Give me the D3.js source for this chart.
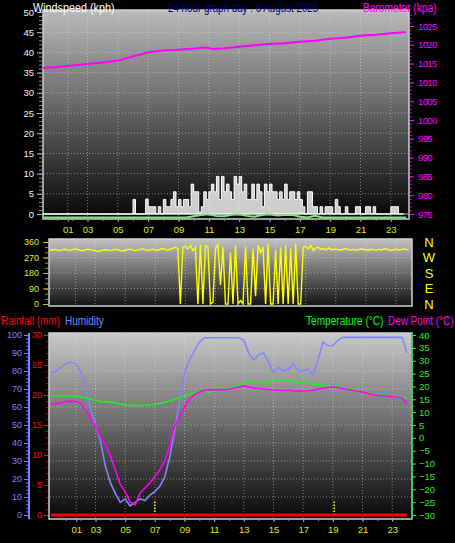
<!DOCTYPE html>
<html><head><meta charset="utf-8">
<script src="https://cdn.jsdelivr.net/npm/d3@7"></script>
<style>html,body{margin:0;padding:0;background:#000;overflow:hidden}</style>
</head><body><svg id="c" width="455" height="543"></svg>
<script>
// ---------- DATA ----------
const hourLabels = ['01','03','05','07','09','11','13','15','17','19','21','23'];
const hourTicks  = [1.7,3,5,7,9,11,13,15,17,19,21,23];

// wind gust (kph), every 10 minutes from 00:00
const windGust = [
 0,0,0,0,0,0, 0,0,0,0,0,0, 0,0,0,0,0,0, 0,0,0,0,0,0, 0,0,0,0,0,0, 0,0,0,0,0,0,
 3.6,0,0,0,0,3.7, 1.8,1.8,1.8,0,1.8,0, 3.6,1.8,1.8,3.6,5.5,1.8, 3.6,1.8,3.6,3.6,1.8,7.4,
 5.5,5.5,0.5,1.8,5.5,3.6, 5.5,7.4,5.5,9.3,3.6,9.3, 5.5,7.4,5.5,3.6,9.3,7.4, 9.3,5.5,7.4,3.6,3.6,7.4,
 3.6,7.4,5.5,1.8,7.4,5.5, 7.4,5.5,5.5,3.6,5.5,3.6, 7.4,3.6,5.5,5.5,3.6,5.5, 3.6,1.8,0,5.5,5.5,1.8,
 1.8,0,1.8,0,1.8,1.8, 1.8,0,3.6,1.8,0,0, 1.8,0,0,0,1.8,1.8, 0,0,1.8,1.8,0,1.8,
 0,0,0,0,0,0, 1.8,1.8,1.8,0,0,0
];
// average wind (kph), every 30 minutes
const windAvg = [
 0,0,0,0,0,0,0,0,0,0,0,0,0,0,0,0,0,0,0,0,
 0.3,0.6,0.8,0.4,0.3,0.7,0.8,0.4,0.2,0.6,0.8,0.5,0.6,0.7,0.2,0,0.4,
 0,0,0,0,0,0,0,0,0,0,0,0
];
// barometer
const baroHours = [0,1,2,3,4,5,6,7,8,9,10,10.8,11.3,12,13,14,15,16,17,18,19,20,21,22,23,24];
const baroVals  = [1013.8,1014.1,1014.5,1014.9,1015.3,1015.8,1016.9,1018.0,1018.5,1018.7,1019.0,1019.3,1018.9,1019.1,1019.5,1019.9,1020.2,1020.4,1020.8,1021.1,1021.6,1021.9,1022.4,1022.7,1023.1,1023.4];
// wind direction (deg), every 10 minutes
const windDir = [
 312,315,318,313,310,316, 318,314,311,316,320,315, 312,309,314,318,316,312, 310,306,308,312,315,313,
 310,314,317,315,311,308, 312,316,318,314,310,313, 317,320,315,311,314,318, 315,312,318,322,316,313,
 318,325,330,320,0,330, 335,320,340,310,330,0, 345,0,340,330,0,10, 320,345,110,330,0,0,
 300,0,340,0,20,0, 330,0,0,320,45,340, 300,330,0,350,0,0, 310,0,330,0,340,0,
 320,0,350,0,0,330, 335,320,340,310,325,330, 318,322,314,326,318,315, 320,316,312,318,322,316,
 314,318,312,316,320,318, 315,312,318,316,313,317, 314,318,321,316,312,315, 318,314,316,320,317,315
];
// every 20 minutes from 00:00 to 24:00
const humidity = [79,80,82,84,85,84,80,70,59,50,41,27,18,12,7,9,5,7,9,8,11,13,16,21,32,47,63,79,86,91,96,
 98.5,98.5,98.5,98.5,98.5,98.5,98.5,98.5,
 97,90,86,89,90,85,79,82,80,81,84,80,80,81,78,86,96,94,94,97,
 98.7,98.7,98.7,98.7,98.7,98.7,98.7,98.7,98.7,98.7,98.7,98.7,98.7,90];
const temperature = [16.3,16.3,16.2,16.3,16.3,16.2,16.0,15.5,15.0,14.5,14.2,14.1,14.0,13.6,13.2,12.8,12.7,12.6,12.6,12.7,
 12.9,13.1,13.4,13.8,14.4,15.0,15.6,16.3,17.0,17.5,18.0,18.5,17.4,19.3,19.8,19.5,19.2,19.8,20.5,21.5,
 22.0,21.3,21.2,21.6,21.8,22.2,22.4,22.3,22.2,22.0,21.8,21.6,21.4,21.0,20.8,20.4,20.1,20.1,20.0,19.6,
 19.2,18.8,18.3,17.9,17.6,17.2,16.9,16.6,16.2,16.1,16.0,16.0,15.2];
const dewPoint = [13.1,13.3,13.5,14.2,14.3,14.2,13.4,10.5,7.5,4.5,0.4,-2.8,-7.0,-12.5,-18,-21,-25,-26,-21.5,-19.5,
 -17.5,-15,-12.5,-9,-3,4.5,8,12,15,16.8,17.8,18.5,18.8,18.6,18.8,18.7,18.9,19.3,19.8,20.2,
 19.8,19.3,19.2,19.0,18.8,18.6,18.5,18.4,18.5,18.3,18.2,18.2,18.3,18.5,19.0,19.3,19.6,19.8,19.6,19.2,
 18.8,18.5,18.1,17.8,17.4,16.9,16.6,16.4,16.2,16.0,15.8,15.6,13.4];
const rainHours = [0,24];
const rainVals  = [0,0];
const sunHours = [7.0,19.1];
const compass = ['N','E','S','W','N'];
const compassDeg = [0,90,180,270,360];

// ---------- DRAW ----------
const FONT = "'Liberation Sans', Arial, sans-serif";
const svg = d3.select('#c');
const defs = svg.append('defs');
function grad(id, c0, c1){
  const g = defs.append('linearGradient').attr('id',id).attr('x1',0).attr('y1',0).attr('x2',0).attr('y2',1);
  g.append('stop').attr('offset','0%').attr('stop-color',c0);
  g.append('stop').attr('offset','100%').attr('stop-color',c1);
}
grad('g1','#bababa','#060606');
grad('g2','#c2c2c2','#121212');
grad('g3','#cacaca','#060606');

const P1 = {l:43,r:409,t:10,b:219};
const P2 = {l:49,r:412,t:239,b:306};
const P3 = {l:49,r:412,t:333,b:519};

const x1 = d3.scaleLinear([0,24],[42,406]);
const yWind = d3.scaleLinear([0,50],[214,12]);
const yBaro = d3.scaleLinear([975,1025],[214,26]);
const x2 = d3.scaleLinear([0,24],[50,411]);
const yDir = d3.scaleLinear([0,360],[304,242]);
const x3 = d3.scaleLinear([0,24],[51,407]);
const yHum = d3.scaleLinear([0,100],[515,335]);
const yRain = d3.scaleLinear([0,30],[515,335]);
const yTemp = d3.scaleLinear([-30,40],[515,335]);

function panel(P, id, clipId){
  defs.append('clipPath').attr('id',clipId).append('rect')
    .attr('x',P.l).attr('y',P.t).attr('width',P.r-P.l).attr('height',P.b-P.t);
  svg.append('rect').attr('x',P.l).attr('y',P.t).attr('width',P.r-P.l).attr('height',P.b-P.t)
    .attr('fill','url(#'+id+')').attr('stroke','#cfcfcf').attr('stroke-width',1.5);
}
panel(P1,'g1','c1'); panel(P2,'g2','c2'); panel(P3,'g3','c3');

function hgrid(P, ys){
  svg.append('g').selectAll('line').data(ys).join('line')
    .attr('x1',P.l+1).attr('x2',P.r-1).attr('y1',d=>d).attr('y2',d=>d)
    .attr('stroke','rgba(225,225,225,0.5)').attr('stroke-dasharray','1,2');
}
function vgrid(P, xs){
  svg.append('g').selectAll('line').data(xs).join('line')
    .attr('y1',P.t+1).attr('y2',P.b-1).attr('x1',d=>d).attr('x2',d=>d)
    .attr('stroke','rgba(225,225,225,0.5)').attr('stroke-dasharray','1,2');
}
hgrid(P1, d3.range(5,51,5).map(v=>yWind(v)));
vgrid(P1, hourTicks.map(h=>x1(h)));
hgrid(P2, [90,180,270].map(v=>yDir(v)));
vgrid(P2, hourTicks.map(h=>x2(h)));
hgrid(P3, d3.range(10,100,10).map(v=>yHum(v)));
vgrid(P3, hourTicks.map(h=>x3(h)));
svg.append('line').attr('x1',P1.l+1).attr('x2',P1.r-1).attr('y1',yWind(0)).attr('y2',yWind(0))
  .attr('stroke','#bdbdbd').attr('stroke-width',1.2);

function styleAxis(g, lineColor, textColor, fs, ls){
  g.select('.domain').remove();
  g.selectAll('line').attr('stroke',lineColor);
  g.selectAll('text').attr('fill',textColor).style('font-family',FONT).style('font-size',fs+'px')
    .style('letter-spacing', (ls||0)+'px');
}

// ---- top panel ----
const gWind = svg.append('g').attr('clip-path','url(#c1)');
const idx10 = i => i/6;
gWind.append('path').datum(windGust)
  .attr('d', d3.area().x((d,i)=>x1(idx10(i))).y0(yWind(0)).y1(d=>yWind(d)).curve(d3.curveStepAfter))
  .attr('fill','rgba(238,238,238,0.85)').attr('stroke','#ffffff').attr('stroke-width',1);
gWind.append('path').datum(windAvg)
  .attr('transform','translate(0,3.5)')
  .attr('d', d3.line().x((d,i)=>x1(i/2)).y(d=>yWind(d)))
  .attr('fill','none').attr('stroke','#7fe37f').attr('stroke-width',2);
gWind.append('path').datum(baroVals)
  .attr('d', d3.line().x((d,i)=>x1(baroHours[i])).y(d=>yBaro(d)))
  .attr('fill','none').attr('stroke','#ff00ff').attr('stroke-width',2);

let a;
a = svg.append('g').attr('transform','translate(42,0)')
  .call(d3.axisLeft(yWind).tickValues(d3.range(0,51,1)).tickSize(3).tickFormat(''));
styleAxis(a,'#8a8a8a','#fff',9);
a = svg.append('g').attr('transform','translate(42,0)')
  .call(d3.axisLeft(yWind).tickValues(d3.range(0,51,5)).tickSize(5).tickPadding(3));
styleAxis(a,'#b5b5b5','#f2f2f2',9.5);
a = svg.append('g').attr('transform','translate(410,0)')
  .call(d3.axisRight(yBaro).tickValues(d3.range(975,1029,1)).tickSize(2).tickFormat(''));
styleAxis(a,'#c000c0','#ff00ff',9);
a = svg.append('g').attr('transform','translate(410,0)')
  .call(d3.axisRight(yBaro).tickValues(d3.range(975,1026,5)).tickFormat(d3.format('d')).tickSize(4).tickPadding(4));
styleAxis(a,'#ff00ff','#ff00ff',9.5,-0.6);
a = svg.append('g').attr('transform','translate(0,219)')
  .call(d3.axisBottom(x1).tickValues(d3.range(1,24,1)).tickSize(2).tickFormat(''));
styleAxis(a,'#909090','#e8e800',9);
a = svg.append('g').attr('transform','translate(0,219)')
  .call(d3.axisBottom(x1).tickValues(hourTicks).tickFormat((d,i)=>hourLabels[i]).tickSize(3).tickPadding(4));
styleAxis(a,'#a0a0a0','#e6e600',9.5);

// ---- middle panel ----
const gDir = svg.append('g').attr('clip-path','url(#c2)');
gDir.append('path').datum(windDir)
  .attr('d', d3.line().x((d,i)=>x2(idx10(i))).y(d=>yDir(d)))
  .attr('fill','none').attr('stroke','#ffff00').attr('stroke-width',1.4);
a = svg.append('g').attr('transform','translate(48,0)')
  .call(d3.axisLeft(yDir).tickValues(d3.range(0,361,30)).tickSize(3).tickFormat(''));
styleAxis(a,'#a0a000','#e8e800',9);
a = svg.append('g').attr('transform','translate(48,0)')
  .call(d3.axisLeft(yDir).tickValues([0,90,180,270,360]).tickSize(5).tickPadding(4));
styleAxis(a,'#c8c800','#e6e600',9);
svg.append('g').selectAll('text').data(compassDeg).join('text')
  .attr('x',429).attr('y',d=>yDir(d)).attr('dy','0.36em').attr('text-anchor','middle')
  .attr('fill','#ffff00').style('font-family',FONT).style('font-size','13px')
  .text((d,i)=>compass[i]);

// ---- bottom panel ----
const gB = svg.append('g').attr('clip-path','url(#c3)');
const idx20 = i => i/3;
gB.append('path').datum(humidity)
  .attr('d', d3.line().x((d,i)=>x3(idx20(i))).y(d=>yHum(d)))
  .attr('fill','none').attr('stroke','#8484ff').attr('stroke-width',1.6);
gB.append('path').datum(temperature)
  .attr('d', d3.line().x((d,i)=>x3(idx20(i))).y(d=>yTemp(d)))
  .attr('fill','none').attr('stroke','#22ee22').attr('stroke-width',1.6);
gB.append('path').datum(dewPoint)
  .attr('d', d3.line().x((d,i)=>x3(idx20(i))).y(d=>yTemp(d)))
  .attr('fill','none').attr('stroke','#ff00ff').attr('stroke-width',1.6);
gB.append('g').selectAll('line').data(sunHours).join('line')
  .attr('x1',d=>x3(d)).attr('x2',d=>x3(d)).attr('y1',yRain(0)).attr('y2',yRain(0)-15)
  .attr('stroke','#ffff00').attr('stroke-width',1.5).attr('stroke-dasharray','1.5,1.5');
gB.append('path').datum(rainVals)
  .attr('d', d3.line().x((d,i)=>x3(rainHours[i])).y(d=>yRain(d)))
  .attr('fill','none').attr('stroke','#ff0000').attr('stroke-width',3);

// humidity axis
svg.append('line').attr('x1',29).attr('x2',29).attr('y1',P3.t).attr('y2',P3.b)
  .attr('stroke','#8080ff').attr('stroke-width',2);
a = svg.append('g').attr('transform','translate(28,0)')
  .call(d3.axisLeft(yHum).tickValues(d3.range(0,101,2)).tickSize(2).tickFormat(''));
styleAxis(a,'#6f6fe0','#8080ff',9);
a = svg.append('g').attr('transform','translate(28,0)')
  .call(d3.axisLeft(yHum).tickValues(d3.range(0,101,10)).tickSize(4).tickPadding(2));
styleAxis(a,'#8080ff','#8080ff',9);
// rainfall axis
a = svg.append('g').attr('transform','translate(48,0)')
  .call(d3.axisLeft(yRain).tickValues(d3.range(0,31,1)).tickSize(2).tickFormat(''));
styleAxis(a,'#c00000','#ff0000',9);
a = svg.append('g').attr('transform','translate(48,0)')
  .call(d3.axisLeft(yRain).tickValues(d3.range(0,31,5)).tickSize(4).tickPadding(2));
styleAxis(a,'#ff0000','#ff0000',9);
// temperature axis
svg.append('line').attr('x1',412).attr('x2',412).attr('y1',P3.t).attr('y2',P3.b)
  .attr('stroke','#33cc33').attr('stroke-width',1.5);
a = svg.append('g').attr('transform','translate(412,0)')
  .call(d3.axisRight(yTemp).tickValues(d3.range(-30,41,2.5)).tickSize(2).tickFormat(''));
styleAxis(a,'#22bb22','#22ee22',9);
a = svg.append('g').attr('transform','translate(412,0)')
  .call(d3.axisRight(yTemp).tickValues(d3.range(-30,41,5)).tickSize(4).tickPadding(3));
styleAxis(a,'#22ee22','#22ee22',9.5);
a = svg.append('g').attr('transform','translate(0,519)')
  .call(d3.axisBottom(x3).tickValues(d3.range(1,24,1)).tickSize(2).tickFormat(''));
styleAxis(a,'#909090','#e8e800',9);
a = svg.append('g').attr('transform','translate(0,519)')
  .call(d3.axisBottom(x3).tickValues(hourTicks).tickFormat((d,i)=>hourLabels[i]).tickSize(3).tickPadding(4));
styleAxis(a,'#a0a0a0','#e6e600',9.5);

// ---- titles (narrow glyphs: small font, stretched vertically) ----
function title(t, x, y, color, fs){
  svg.append('text').attr('transform',`translate(${x},${y}) scale(1,1.22)`).attr('fill',color)
    .style('font-family',FONT).style('font-size',fs+'px').text(t);
}
title('Windspeed (kph)', 33, 11.5, '#ffffff', 10.8);
title('24 hour graph day : 6 August 2025', 168, 11.5, '#000080', 9.8);
title('Barometer (kpa)', 363, 11.5, '#ff00ff', 10.2);
title('Rainfall (mm)', 1, 325, '#ff0000', 9.9);
title('Humidity', 65, 325, '#8080ff', 10);
title('Temperature (°C)', 306, 325, '#00ff00', 10.1);
title('Dew Point (°C)', 388, 325, '#ff00ff', 9.9);
</script>
</body></html>
